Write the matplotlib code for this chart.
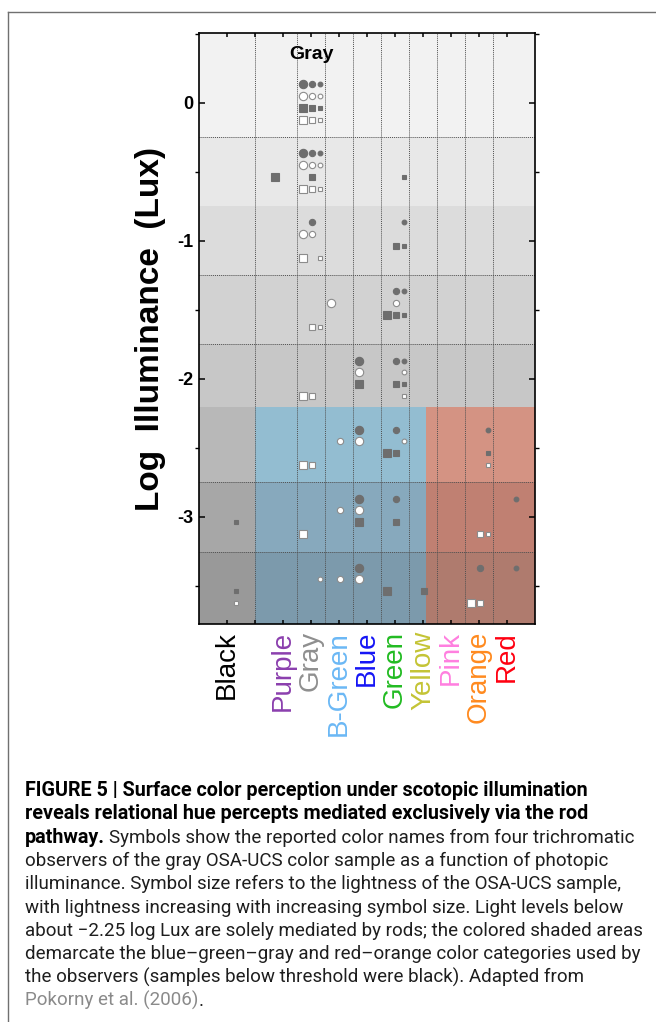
import matplotlib
matplotlib.use('Agg')
import matplotlib.pyplot as plt
from matplotlib.lines import Line2D
from matplotlib.ticker import MultipleLocator

# light levels (log lux) tested and the colour names on the x axis
levels = [0, -0.5, -1, -1.5, -2, -2.5, -3, -3.5]
categories = ['Black', 'Purple', 'Gray', 'B-Green', 'Blue', 'Green',
              'Yellow', 'Pink', 'Orange', 'Red']
cat_x = [1, 3, 4, 5, 6, 7, 8, 9, 10, 11]
cat_colors = ['#000000', '#8b3fae', '#8f8f8f', '#6bb8f5', '#1515f5',
              '#22bb22', '#c4c435', '#ff7fdf', '#ff8a1f', '#ff0010']
tick_labels = ['Black', '', 'Purple', 'Gray', 'B-Green', 'Blue', 'Green',
               'Yellow', 'Pink', 'Orange', 'Red']

# name given by each observer at each level, for the (large, medium, small)
# lightness sample; None = no symbol
obs_filled_circle = [
    ('Gray', 'Gray', 'Gray'),
    ('Gray', 'Gray', 'Gray'),
    (None, 'Gray', 'Green'),
    (None, 'Green', 'Green'),
    ('Blue', 'Green', 'Green'),
    ('Blue', 'Green', 'Orange'),
    ('Blue', 'Green', 'Red'),
    ('Blue', 'Orange', 'Red'),
]
obs_open_circle = [
    ('Gray', 'Gray', 'Gray'),
    ('Gray', 'Gray', 'Gray'),
    ('Gray', 'Gray', None),
    ('B-Green', 'Green', None),
    ('Blue', None, 'Green'),
    ('Blue', 'B-Green', 'Green'),
    ('Blue', 'B-Green', None),
    ('Blue', 'B-Green', 'Gray'),
]
obs_filled_square = [
    ('Gray', 'Gray', 'Gray'),
    ('Purple', 'Gray', 'Green'),
    (None, 'Green', 'Green'),
    ('Green', 'Green', 'Green'),
    ('Blue', 'Green', 'Green'),
    ('Green', 'Green', 'Orange'),
    ('Blue', 'Green', 'Black'),
    ('Green', 'Yellow', 'Black'),
]
obs_open_square = [
    ('Gray', 'Gray', 'Gray'),
    ('Gray', 'Gray', 'Gray'),
    ('Gray', None, 'Gray'),
    (None, 'Gray', 'Gray'),
    ('Gray', 'Gray', 'Green'),
    ('Gray', 'Gray', 'Orange'),
    ('Gray', 'Orange', 'Orange'),
    ('Orange', 'Orange', 'Black'),
]

# shaded bands: edges in log lux and fill colours (gray / rod blue / rod red)
band_edges = [0.505, -0.25, -0.75, -1.25, -1.75, -2.2, -2.75, -3.25, -3.775]
band_gray = ['#f2f2f2', '#e8e8e8', '#dcdcdc', '#d2d2d2', '#c7c7c7',
             '#b8b8b8', '#a7a7a7', '#999999']
band_blue = [None, None, None, None, None, '#93bdd1', '#87a9bd', '#7c9aac']
band_red = [None, None, None, None, None, '#d49383', '#c08072', '#af7b6e']
column_edges = [2, 3.5, 4.5, 5.5, 6.5, 7.5, 8.5, 9.5, 10.5]
dotted_rows = [-0.25, -1.25, -1.75, -2.75, -3.25]

plt.rcParams['font.family'] = ['Liberation Sans', 'DejaVu Sans']

fig = plt.figure(figsize=(6.56, 10.22), dpi=100)
ax = fig.add_axes([199 / 656, 1 - 624 / 1022, 336 / 656, 591 / 1022])
ax.set_xlim(0, 12)
ax.set_ylim(-3.775, 0.505)

for i in range(len(band_gray)):
    y0, y1 = band_edges[i + 1], band_edges[i]
    ax.fill_between([0, 12], y0, y1, color=band_gray[i], lw=0, zorder=0)
    if band_blue[i]:
        ax.fill_between([2, 8.1], y0, y1, color=band_blue[i], lw=0, zorder=0)
        ax.fill_between([8.1, 12], y0, y1, color=band_red[i], lw=0, zorder=0)

for x in column_edges:
    ax.axvline(x, color='#505050', lw=0.7, ls=(0, (1, 1)), zorder=1)
for y in dotted_rows:
    ax.axhline(y, color='#505050', lw=0.7, ls=(0, (1, 1)), zorder=1)

# symbol placement: x offset by sample lightness, y offset by observer
size_dx = [-0.27, 0.05, 0.33]
circle_ms = [6.0, 4.5, 3.4]
square_ms = [5.4, 4.0, 3.0]
observers = [
    (obs_filled_circle, 'o', 0.133, '#6e6e6e', '#6e6e6e', circle_ms),
    (obs_open_circle, 'o', 0.05, 'white', '#8c8c8c', circle_ms),
    (obs_filled_square, 's', -0.037, '#6e6e6e', '#6e6e6e', square_ms),
    (obs_open_square, 's', -0.122, 'white', '#8c8c8c', square_ms),
]
for answers, marker, dy, face, edge, sizes in observers:
    for k in range(3):
        xs, ys = [], []
        for lev, trio in zip(levels, answers):
            name = trio[k]
            if name is None:
                continue
            xs.append(cat_x[categories.index(name)] + size_dx[k])
            ys.append(lev + dy)
        ax.plot(xs, ys, ls='none', marker=marker, ms=sizes[k], mfc=face,
                mec=edge, mew=0.8, zorder=3)

ax.text(4, 0.35, 'Gray', ha='center', va='center', fontsize=14,
        fontweight='bold')

ax.set_xticks(range(1, 12))
ax.set_xticklabels(tick_labels, rotation=90, fontsize=20)
for lab, txt in zip(ax.get_xticklabels(), tick_labels):
    if txt:
        lab.set_color(cat_colors[categories.index(txt)])
ax.set_yticks([0, -1, -2, -3])
ax.set_yticklabels(['0', '-1', '-2', '-3'], fontsize=13, fontweight='bold')
ax.yaxis.set_minor_locator(MultipleLocator(0.5))
ax.tick_params(direction='in', top=True, right=True, width=1.1)
ax.tick_params(axis='y', which='major', length=4, pad=4)
ax.tick_params(axis='y', which='minor', length=3, width=1, right=True)
ax.tick_params(axis='x', length=3, pad=5)
for sp in ax.spines.values():
    sp.set_linewidth(1.2)

fig.text(151 / 656, 1 - 329 / 1022, 'Log  Illuminance  (Lux)', rotation=90,
         ha='center', va='center', fontsize=24, fontweight='bold')

# page frame
fig.add_artist(Line2D([8 / 656, 1], [1 - 12 / 1022] * 2,
                      transform=fig.transFigure, color='#707070', lw=1))
fig.add_artist(Line2D([8 / 656, 8 / 656], [0, 1 - 12 / 1022],
                      transform=fig.transFigure, color='#707070', lw=1))

# caption
cap_font = ['Roboto', 'Liberation Sans', 'DejaVu Sans']
renderer = fig.canvas.get_renderer()


def text_width(s, **kw):
    t = fig.text(0, 0, s, **kw)
    w = t.get_window_extent(renderer).width
    t.remove()
    return w


bold_lines = ['FIGURE 5 | Surface color perception under scotopic illumination',
              'reveals relational hue percepts mediated exclusively via the rod']
plain_lines = [
    'Symbols show the reported color names from four trichromatic',
    'observers of the gray OSA-UCS color sample as a function of photopic',
    'illuminance. Symbol size refers to the lightness of the OSA-UCS sample,',
    'with lightness increasing with increasing symbol size. Light levels below',
    'about \u22122.25 log Lux are solely mediated by rods; the colored shaded areas',
    'demarcate the blue\u2013green\u2013gray and red\u2013orange color categories used by',
    'the observers (samples below threshold were black). Adapted from',
]
bsize = 12 * 563 / text_width(bold_lines[0], fontsize=12, family=cap_font,
                              fontweight='bold')
rsize = 12 * 615 / text_width(plain_lines[4], fontsize=12, family=cap_font)

x0 = 25
base = 796
step = 23.3
ink = '#1e1e1e'


def put(x, i, s, **kw):
    fig.text(x / 656, 1 - (base + i * step) / 1022, s, va='baseline',
             family=cap_font, **kw)


put(x0, 0, bold_lines[0], fontsize=bsize, fontweight='bold', color='black')
put(x0, 1, bold_lines[1], fontsize=bsize, fontweight='bold', color='black')
put(x0, 2, 'pathway.', fontsize=bsize, fontweight='bold', color='black')
wb = text_width('pathway.', fontsize=bsize, family=cap_font, fontweight='bold')
put(x0 + wb + 4, 2, plain_lines[0], fontsize=rsize, color=ink)
for i, line in enumerate(plain_lines[1:]):
    put(x0, 3 + i, line, fontsize=rsize, color=ink)
put(x0, 9, 'Pokorny et al. (2006)', fontsize=rsize, color='#8a8a8a')
wp = text_width('Pokorny et al. (2006)', fontsize=rsize, family=cap_font)
put(x0 + wp, 9, '.', fontsize=rsize, color=ink)

fig.savefig('out.png', dpi=100)
